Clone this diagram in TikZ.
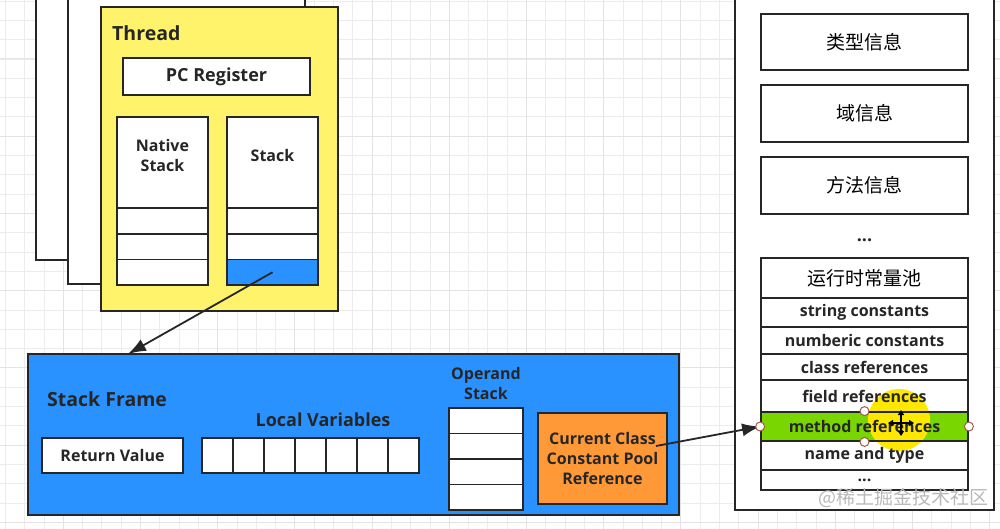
\documentclass[tikz,border=0pt]{standalone}
\usepackage{fontspec}
\setmainfont{Open Sans}
\newfontfamily\cjk{Noto Sans CJK SC}
\usetikzlibrary{arrows.meta}
\definecolor{c1}{RGB}{38,38,38}
\definecolor{c2}{RGB}{255,243,107}
\definecolor{c3}{RGB}{42,146,255}
\definecolor{c4}{RGB}{255,153,56}
\definecolor{c5}{RGB}{122,214,0}
\definecolor{c6}{RGB}{255,232,0}
\definecolor{c7}{RGB}{236,236,236}
\definecolor{c8}{RGB}{160,90,80}

\begin{document}
\begin{tikzpicture}[x=1pt,y=-1pt,
    box/.style={draw=c1,line width=1.8pt,fill=white,inner sep=0pt},
    row/.style={draw=c1,line width=1.8pt,inner sep=0pt,minimum width=207},
    lbl/.style={text=c1,font=\bfseries\fontsize{16}{20}\selectfont,inner sep=0pt},
    big/.style={text=c1,font=\bfseries\fontsize{18}{22}\selectfont,inner sep=0pt},
    arr/.style={draw=c1,line width=1.8pt,-{Latex[length=18pt,width=13pt]}},
    handle/.style={draw=c8,line width=1pt,fill=white}]
    \useasboundingbox (0,0) rectangle (1000,529);
    % grid of the canvas
    \foreach \i in {-4,...,50}
        \draw[c7,line width=0.8pt] ({63.2+19.3*\i},0) -- ({63.2+19.3*\i},529);
    \foreach \i in {-4,...,28}
        \draw[c7,line width=0.8pt] (0,{59+19.3*\i}) -- (1000,{59+19.3*\i});
    \foreach \i in {-1,...,12}
        \draw[gray!22,line width=1pt] ({63.2+77.2*\i},0) -- ({63.2+77.2*\i},529);
    \foreach \i in {-1,...,7}
        \draw[gray!22,line width=1pt] (0,{59+77.2*\i}) -- (1000,{59+77.2*\i});

    % threads behind
    \draw[draw=c1,line width=1.8pt,fill=white] (36,-40) rectangle (272,260);
    \draw[draw=c1,line width=1.8pt,fill=white] (68,-20) rectangle (305,284);

    \begin{scope} % thread
        \draw[draw=c1,line width=1.8pt,fill=c2] (101,7) rectangle (338,311);
        \node[big,font=\bfseries\fontsize{19.5}{22}\selectfont,anchor=west] (thread) at (112,33) {Thread};
        \node[box,minimum width=187,minimum height=37] (pc) at (216.5,76.5) {};
        \node[big] (pclbl) at (pc) {PC Register};
        \node[box,minimum width=91,minimum height=91] (nstack) at (162.5,162.5) {};
        \node[lbl,align=center] (nslbl) at (162.5,155.5) {Native\\Stack};
        \node[box,minimum width=91,minimum height=91] (stack) at (272.5,162.5) {};
        \node[lbl] (stlbl) at (272.5,155.5) {Stack};
        \foreach \i in {0,1,2} {
            \node[box,minimum width=91,minimum height=25.7] (ns\i) at (162.5,{220.85+25.7*\i}) {};
            \node[box,minimum width=91,minimum height=25.7] (st\i) at (272.5,{220.85+25.7*\i}) {};
        }
        \node[box,fill=c3,minimum width=91,minimum height=25.7] (cur) at (272.5,272.25) {};
    \end{scope}

    \begin{scope} % stack frame
        \node[box,fill=c3,minimum width=651,minimum height=161] (frame) at (353.5,434.5) {};
        \node[big,font=\bfseries\fontsize{19.5}{22}\selectfont,anchor=west] (sflbl) at (47,399) {Stack Frame};
        \node[box,minimum width=141,minimum height=35] (ret) at (112.5,455.5) {};
        \node[lbl] (retlbl) at (ret) {Return Value};
        \node[big] (lvlbl) at (323,420) {Local Variables};
        \foreach \i in {0,...,6}
            \node[box,minimum width=31,minimum height=35] (lv\i) at ({217.5+31*\i},455.5) {};
        \node[lbl,align=center] (oplbl) at (486,383) {Operand\\Stack};
        \foreach \i in {0,...,3}
            \node[box,minimum width=74,minimum height=25.5] (op\i) at (486,{420.75+25.5*\i}) {};
        \node[box,fill=c4,minimum width=129,minimum height=91] (ccp) at (602.5,458.5) {};
        \node[lbl,align=center] (ccplbl) at (ccp) {Current Class\\Constant Pool\\Reference};
    \end{scope}

    \begin{scope} % method area
        \draw[draw=c1,line width=1.8pt,fill=white] (735,-20) rectangle (994,510);
        \node[row,minimum height=56] (type) at (864.5,42) {\cjk\fontsize{19}{22}\selectfont 类型信息};
        \node[row,minimum height=57] (field) at (864.5,113.5) {\cjk\fontsize{19}{22}\selectfont 域信息};
        \node[row,minimum height=57] (meth) at (864.5,185.5) {\cjk\fontsize{19}{22}\selectfont 方法信息};
        \node[big] (dots) at (864.5,240) {...};
        \fill[c5] (761,412) rectangle (968,441);
        \fill[c6] (899,420) circle (31);
        \node[row,minimum height=40] (pool) at (864.5,278) {\cjk\fontsize{19}{22}\selectfont 运行时常量池};
        \node[row,lbl,minimum height=29] (sc) at (864.5,312.5) {string constants};
        \node[row,lbl,minimum height=27] (nc) at (864.5,340.5) {numberic constants};
        \node[row,lbl,minimum height=26] (cref) at (864.5,367) {class references};
        \node[row,lbl,minimum height=32] (fref) at (864.5,396) {field references};
        \node[row,lbl,minimum height=29] (mref) at (864.5,426.5) {method references};
        \node[row,lbl,minimum height=29] (nt) at (864.5,455.5) {name and type};
        \node[row,lbl,minimum height=20] (more) at (864.5,480) {...};
    \end{scope}

    % references
    \coordinate (hit) at (128,354);
    \coordinate (src) at (656,446);
    \draw[arr] (cur.center) -- (hit);
    \draw[arr] (src) -- (mref.west);

    % selection handles and cursor
    \draw[handle] (mref.west) circle (4.5);
    \draw[handle] (mref.east) circle (4.5);
    \draw[handle] (mref.north) circle (4.5);
    \draw[handle] (mref.south) circle (4.5);
    \draw[black,line width=1.4pt,{Triangle[length=5pt,width=6pt]}-{Triangle[length=5pt,width=6pt]}] (888,423) -- (914,423);
    \draw[black,line width=1.4pt,{Triangle[length=5pt,width=6pt]}-{Triangle[length=5pt,width=6pt]}] (901,410) -- (901,436);

    \node[text=gray!55,font=\cjk\fontsize{19}{22}\selectfont,inner sep=0pt] (mark) at (903,498) {@稀土掘金技术社区};
\end{tikzpicture}
\end{document}
